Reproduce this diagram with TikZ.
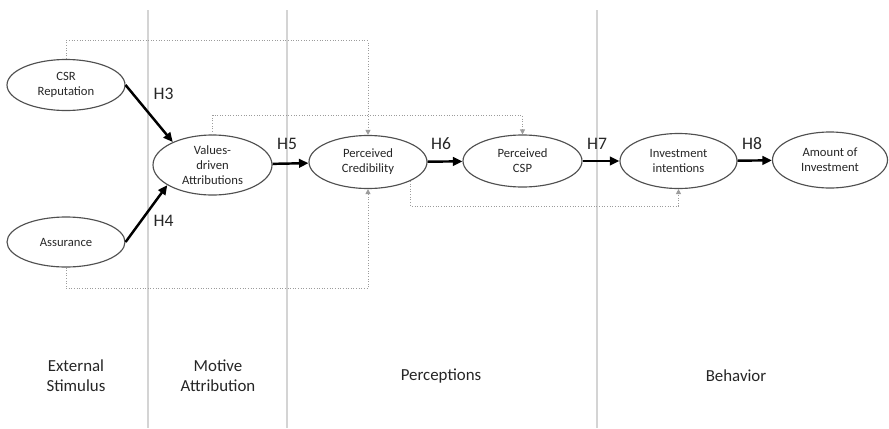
\documentclass[tikz,border=0pt]{standalone}
\usepackage{fontspec}
\setmainfont{Carlito}
\usetikzlibrary{arrows.meta,shapes.geometric}
\definecolor{srink}{HTML}{000000}
\definecolor{srrim}{HTML}{505050}
\definecolor{srdot}{HTML}{9C9C9C}
\definecolor{srsep}{HTML}{D4D4D4}
\tikzset{
  var/.style={ellipse, draw=srrim, line width=0.65pt, inner sep=0pt, align=center, font=\fontsize{7.2}{8.4}\selectfont, text=black!85},
  hyp/.style={font=\fontsize{10}{12}\selectfont, text=black!85},
  phase/.style={align=center, font=\fontsize{9.6}{11.5}\selectfont, text=black!85},
  arr/.style={-{Triangle[length=1.9mm, width=1.7mm]}, line width=1.4pt, color=srink},
  ctl/.style={-{Triangle[length=1mm, width=1mm]}, densely dotted, line width=0.5pt, color=srdot},
  sep/.style={draw=srsep, line width=0.8pt},
}
\begin{document}
\begin{tikzpicture}
    \useasboundingbox (0,0) rectangle (17.78,8.56);
    % phase separators
    \draw[sep] (2.96,8.36) -- (2.96,0);
    \draw[sep] (5.74,8.36) -- (5.74,0);
    \draw[sep] (11.94,8.36) -- (11.94,0);
    % constructs
    \node[var, minimum width=2.36cm, minimum height=1.02cm] (csr) at (1.32,6.86) {CSR\\Reputation};
    \node[var, minimum width=2.36cm, minimum height=1.0cm] (assur) at (1.32,3.72) {Assurance};
    \node[var, minimum width=2.38cm, minimum height=1.2cm] (vda) at (4.25,5.26) {Values-\\driven\\Attributions};
    \node[var, minimum width=2.36cm, minimum height=1.06cm] (cred) at (7.36,5.32) {Perceived\\Credibility};
    \node[var, minimum width=2.38cm, minimum height=1.04cm] (csp) at (10.45,5.34) {Perceived\\CSP};
    \node[var, minimum width=2.34cm, minimum height=1.1cm] (intent) at (13.57,5.34) {Investment\\intentions};
    \node[var, minimum width=2.3cm, minimum height=1.12cm] (amount) at (16.6,5.36) {Amount of\\Investment};
    % hypothesised paths
    \draw[arr] (csr.east) -- (vda.150);
    \draw[arr] (assur.east) -- (vda.204);
    \draw[arr] (vda) -- (cred);
    \draw[arr] (cred) -- (csp);
    \draw[arr] (csp) -- (intent);
    \draw[arr] (intent) -- (amount);
    \node[hyp] (h3) at (3.27,6.68) {H3};
    \node[hyp] (h4) at (3.27,4.14) {H4};
    \node[hyp] (h5) at (5.74,5.69) {H5};
    \node[hyp] (h6) at (8.82,5.69) {H6};
    \node[hyp] (h7) at (11.94,5.69) {H7};
    \node[hyp] (h8) at (15.04,5.69) {H8};
    % control paths
    \draw[ctl] (csr.north) -- ++(0,0.36) -| (cred.north);
    \draw[ctl] (vda.north) -- ++(0,0.38) -| (csp.north);
    \draw[ctl] (assur.south) -- ++(0,-0.42) -| (cred.south);
    \draw[ctl] (cred.-24) -- ++(0,-0.5) -| (intent.south);
    % phases
    \node[phase] (stim) at (1.52,1.04) {External\\Stimulus};
    \node[phase] (motive) at (4.36,1.04) {Motive\\Attribution};
    \node[phase] (percep) at (8.82,1.04) {Perceptions};
    \node[phase] (behav) at (14.72,1.04) {Behavior};
\end{tikzpicture}
\end{document}
